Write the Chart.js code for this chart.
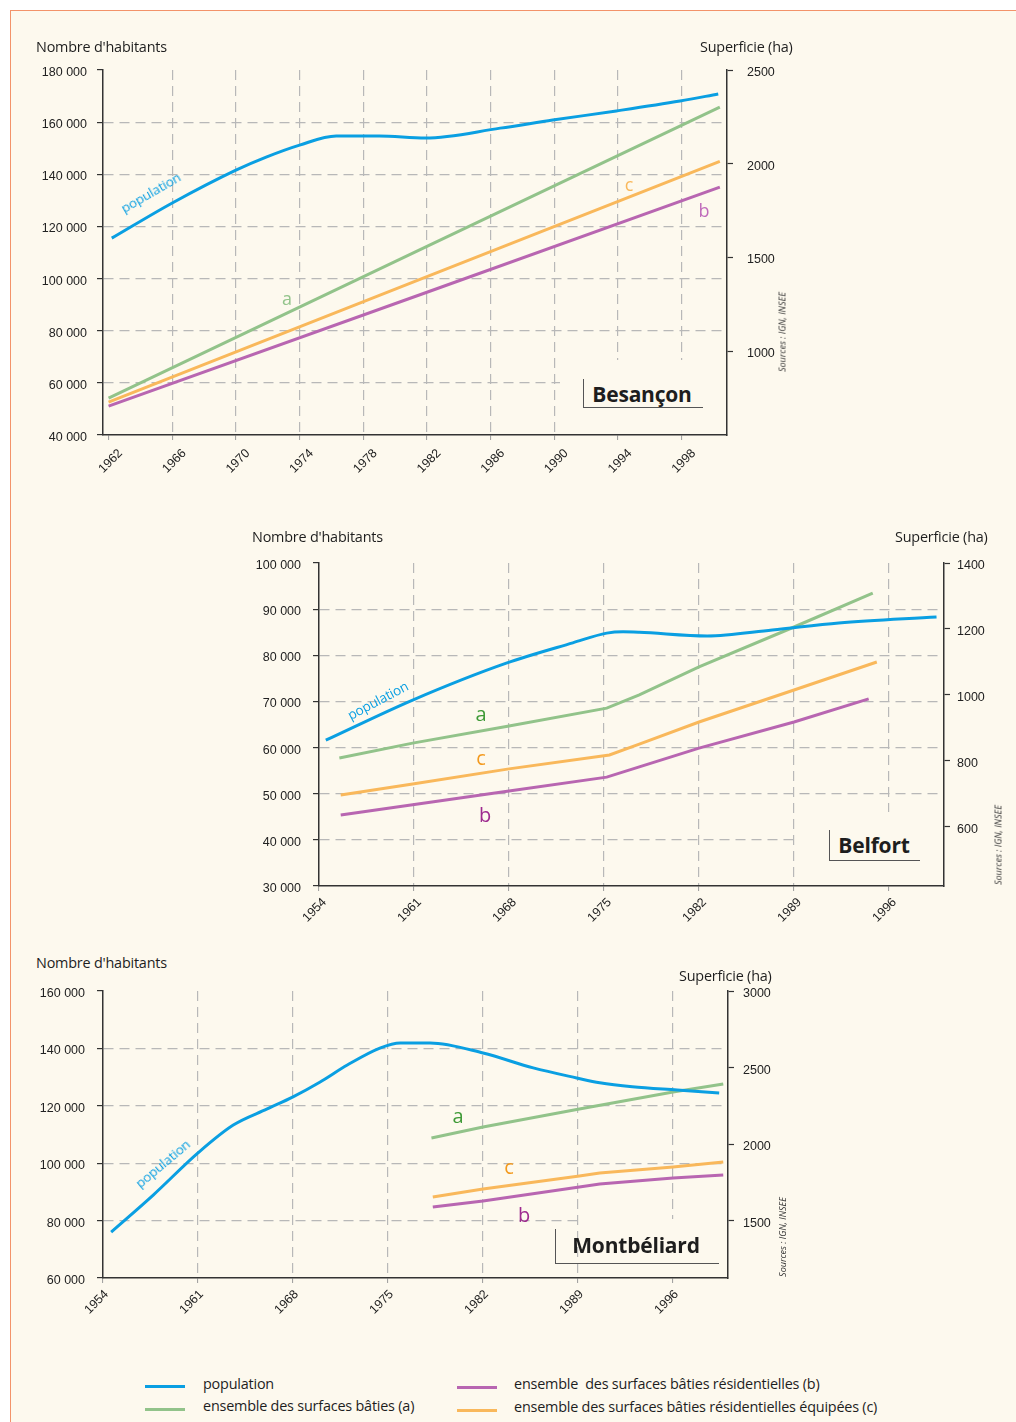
<!DOCTYPE html>
<html lang="fr">
<head>
<meta charset="utf-8">
<title>Population et surfaces bâties</title>
<script src="https://cdn.jsdelivr.net/npm/chart.js@4.4.0/dist/chart.umd.min.js"></script>
<style>
  html, body { margin: 0; padding: 0; background: #fff; }
  body { width: 1016px; height: 1422px; position: relative; overflow: hidden; font-family: "Open Sans", sans-serif; }
  #panel { position: absolute; left: 10px; top: 10px; right: 0; bottom: 0; background: #fdf9ee;
           border-top: 1.5px solid #f3936a; border-left: 1.5px solid #f3936a; }
  canvas { position: absolute; }
  .t { position: absolute; white-space: nowrap; line-height: 1; color: #1e1e1e; z-index: 3; }
  .hdr { font-size: 14.4px; letter-spacing: -0.2px; transform: translateY(-50%); }
  .c { transform: translate(-50%, -50%); }
  .pop { color: #0a9fe2; font-size: 13.5px; letter-spacing: -0.2px; }
  .let { font-size: 20px; }
  .city { font-size: 21px; font-weight: 700; letter-spacing: -0.2px; }
  .src { font-size: 9px; font-style: italic; color: #333; }
  .cover { position: absolute; background: #fdf9ee; z-index: 2; }
  .brk { position: absolute; border-left: 1.5px solid #555; border-bottom: 1.5px solid #555; z-index: 3; }
  .key { position: absolute; height: 3px; width: 40px; }
  .leg { font-size: 14.4px; letter-spacing: -0.2px; transform: translateY(-50%); }
</style>
</head>
<body>
<div id="panel"></div>

<canvas id="besancon" width="800" height="445" style="left:20px;top:55px"></canvas>
<canvas id="belfort" width="786" height="400" style="left:230px;top:545px"></canvas>
<canvas id="montbeliard" width="800" height="365" style="left:20px;top:975px"></canvas>

<!-- Besançon -->
<div class="t hdr" style="left:36px;top:47px">Nombre d'habitants</div>
<div class="t hdr" style="left:700px;top:47px">Superficie (ha)</div>
<div class="t pop c" style="left:151px;top:193px;transform:translate(-50%,-50%) rotate(-30deg)">population</div>
<div class="t let c" style="left:287px;top:298px;color:#93c48b;font-size:18px">a</div>
<div class="t let c" style="left:629px;top:184px;color:#f9b85b;font-size:18px">c</div>
<div class="t let c" style="left:704px;top:210px;color:#c06cbb;font-size:18px">b</div>
<div class="cover" style="left:560px;top:360px;width:166px;height:74px"></div>
<div class="brk" style="left:583px;top:379px;width:119px;height:28px"></div>
<div class="t city c" style="left:642px;top:394px">Besançon</div>
<div class="t src c" style="left:782px;top:332px;transform:translate(-50%,-50%) rotate(-90deg)">Sources : IGN, INSEE</div>

<!-- Belfort -->
<div class="t hdr" style="left:252px;top:537px">Nombre d'habitants</div>
<div class="t hdr" style="left:895px;top:537px">Superficie (ha)</div>
<div class="t pop c" style="left:378px;top:701px;transform:translate(-50%,-50%) rotate(-28deg)">population</div>
<div class="t let c" style="left:481px;top:714px;color:#3f9a37">a</div>
<div class="t let c" style="left:481px;top:758px;color:#f39a1e">c</div>
<div class="t let c" style="left:485px;top:815px;color:#9e2a8f">b</div>
<div class="cover" style="left:798px;top:812px;width:145px;height:73px"></div>
<div class="brk" style="left:829px;top:830px;width:90px;height:30px"></div>
<div class="t city c" style="left:874px;top:845px">Belfort</div>
<div class="t src c" style="left:998px;top:845px;transform:translate(-50%,-50%) rotate(-90deg)">Sources : IGN, INSEE</div>

<!-- Montbéliard -->
<div class="t hdr" style="left:36px;top:963px">Nombre d'habitants</div>
<div class="t hdr" style="left:679px;top:976px">Superficie (ha)</div>
<div class="t pop c" style="left:163px;top:1164px;transform:translate(-50%,-50%) rotate(-40deg)">population</div>
<div class="t let c" style="left:458px;top:1116px;color:#3f9a37">a</div>
<div class="t let c" style="left:509px;top:1167px;color:#f39a1e">c</div>
<div class="t let c" style="left:524px;top:1215px;color:#9e2a8f">b</div>
<div class="cover" style="left:583px;top:1219px;width:144px;height:58px"></div>
<div class="brk" style="left:555px;top:1229px;width:163px;height:34px"></div>
<div class="t city c" style="left:636px;top:1245px">Montbéliard</div>
<div class="t src c" style="left:782px;top:1237px;transform:translate(-50%,-50%) rotate(-90deg)">Sources : IGN, INSEE</div>

<!-- légende -->
<div class="key" style="left:145px;top:1385px;background:#0a9fe2"></div>
<div class="t leg" style="left:203px;top:1384px">population</div>
<div class="key" style="left:145px;top:1408px;background:#92c38a"></div>
<div class="t leg" style="left:203px;top:1406px">ensemble des surfaces bâties (a)</div>
<div class="key" style="left:457px;top:1386px;background:#b866b1"></div>
<div class="t leg" style="left:514px;top:1384px">ensemble&nbsp; des surfaces bâties résidentielles (b)</div>
<div class="key" style="left:457px;top:1409px;background:#f9b85b"></div>
<div class="t leg" style="left:514px;top:1407px">ensemble des surfaces bâties résidentielles équipées (c)</div>

<script>
"use strict";
// --- Besançon ---
const besXTicks = [1962, 1966, 1970, 1974, 1978, 1982, 1986, 1990, 1994, 1998];
const besLeftTicks = [40000, 60000, 80000, 100000, 120000, 140000, 160000, 180000];
const besRightTicks = [1000, 1500, 2000, 2500];
const besPopYears = [1962.2, 1966.0, 1970.0, 1971.9, 1974.0, 1976.3, 1979.0, 1981.9, 1986.6, 1989.9, 1993.9, 1997.9, 2000.3];
const besPop = [115500, 129000, 141600, 146600, 151200, 154700, 154700, 153900, 157700, 160800, 164300, 168100, 170800];
const besSurfYears = [1962.0, 1982.0, 2000.4];
const besSurfA = [749, 1559, 2302];
const besSurfB = [706, 1314, 1875];
const besSurfC = [728, 1397, 2012];

// --- Belfort ---
const belXTicks = [1954, 1961, 1968, 1975, 1982, 1989, 1996];
const belLeftTicks = [30000, 40000, 50000, 60000, 70000, 80000, 90000, 100000];
const belRightTicks = [600, 800, 1000, 1200, 1400];
const belPopYears = [1954.5, 1960.9, 1967.8, 1972.7, 1975.2, 1976.4, 1977.6, 1982.6, 1987.4, 1992.3, 1999.5];
const belPop = [61600, 70300, 78300, 82700, 84800, 85100, 85000, 84200, 85500, 87000, 88300];
const belYearsA = [1955.5, 1960.9, 1968.0, 1975.2, 1977.6, 1982.0, 1989.0, 1994.8];
const belSurfA = [809, 854, 906, 960, 1000, 1085, 1206, 1309];
const belYearsB = [1955.6, 1960.9, 1968.0, 1975.2, 1977.6, 1982.0, 1989.0, 1994.5];
const belSurfB = [636, 667, 709, 751, 782, 839, 918, 988];
const belYearsC = [1955.6, 1960.9, 1968.0, 1975.4, 1977.6, 1982.0, 1989.0, 1995.1];
const belSurfC = [697, 730, 776, 818, 851, 918, 1015, 1100];

// --- Montbéliard ---
const monXTicks = [1954, 1961, 1968, 1975, 1982, 1989, 1996];
const monLeftTicks = [60000, 80000, 100000, 120000, 140000, 160000];
const monRightTicks = [1500, 2000, 2500, 3000];
const monPopYears = [1954.6, 1957.7, 1961.0, 1963.6, 1966.1, 1968.0, 1970.0, 1972.0, 1974.4, 1975.9, 1978.1, 1982.0, 1985.7, 1988.9, 1990.6, 1993.0, 1996.3, 1999.4];
const monPop = [76000, 88900, 103600, 113300, 118900, 123100, 128300, 134200, 140100, 141900, 141900, 138400, 133200, 129700, 128000, 126600, 125500, 124500];
const monYearsA = [1978.2, 1982.0, 1989.1, 1996.0, 1999.7];
const monSurfA = [2041, 2113, 2230, 2341, 2393];
const monYearsBC = [1978.3, 1982.0, 1989.1, 1990.6, 1996.0, 1999.7];
const monSurfB = [1591, 1630, 1722, 1741, 1780, 1800];
const monSurfC = [1656, 1709, 1793, 1813, 1852, 1885];

const BLUE = "#0a9fe2", GREEN = "#92c38a", PURPLE = "#b866b1", ORANGE = "#f9b85b";
const AXIS = "#333", GRID = "#b8b8b8";
const TICK_FONT = { family: "Liberation Sans", size: 12.5 };

function thousands(v) {
    return String(v).replace(/\B(?=(\d{3})+(?!\d))/g, " ");
}

function series(xs, ys, color, axis, smooth) {
    return {
        data: xs.map((x, i) => ({ x: x, y: ys[i] })),
        borderColor: color,
        borderWidth: 3,
        pointRadius: 0,
        fill: false,
        tension: smooth ? 0.4 : 0,
        cubicInterpolationMode: smooth ? "monotone" : "default",
        yAxisID: axis,
    };
}

// fixed axis sizes so the plot area lands where the original has it
function fixWidth(w) {
    return (s) => { s.width = w; s.paddingTop = 0; s.paddingBottom = 0; };
}

function makeChart(id, o) {
    const ctx = document.getElementById(id).getContext("2d");
    return new Chart(ctx, {
        type: "line",
        data: { datasets: o.datasets },
        options: {
            responsive: false,
            animation: false,
            events: [],
            layout: { padding: { top: o.padTop, left: 0, right: 0, bottom: 0 } },
            plugins: { legend: { display: false }, tooltip: { enabled: false } },
            scales: {
                x: {
                    type: "linear",
                    position: "bottom",
                    min: o.xMin,
                    max: o.xMax,
                    bounds: "data",
                    afterBuildTicks: (s) => { s.ticks = o.xTicks.map((v) => ({ value: v })); },
                    afterFit: (s) => { s.height = o.bottomH; },
                    ticks: {
                        autoSkip: false,
                        minRotation: 45,
                        maxRotation: 45,
                        labelOffset: o.labelOffset,
                        padding: o.xPad,
                        color: "#222",
                        font: TICK_FONT,
                        callback: (v) => String(v),
                    },
                    grid: {
                        color: (c) => (c.index === 0 ? "rgba(0,0,0,0)" : GRID),
                        lineWidth: 1.2,
                        tickColor: "#9a9a9a",
                        tickWidth: 1,
                        tickLength: 5,
                    },
                    border: { color: AXIS, width: 1.5, dash: [10, 6] },
                },
                yL: {
                    type: "linear",
                    position: "left",
                    min: o.leftTicks[0],
                    max: o.leftTicks[o.leftTicks.length - 1],
                    bounds: "data",
                    afterBuildTicks: (s) => { s.ticks = o.leftTicks.map((v) => ({ value: v })); },
                    afterFit: fixWidth(o.leftW),
                    ticks: { padding: o.leftPad, labelOffset: 2.5, color: "#222", font: TICK_FONT, callback: (v) => thousands(v) },
                    grid: {
                        color: (c) => (c.index === 0 || c.index === o.leftTicks.length - 1 ? "rgba(0,0,0,0)" : GRID),
                        lineWidth: 1.2,
                        tickColor: AXIS,
                        tickWidth: 1.2,
                        tickLength: 6,
                    },
                    border: { color: AXIS, width: 1.5, dash: [10, 6] },
                },
                yR: {
                    type: "linear",
                    position: "right",
                    min: o.rightMin,
                    max: o.rightTicks[o.rightTicks.length - 1],
                    bounds: "data",
                    afterBuildTicks: (s) => { s.ticks = o.rightTicks.map((v) => ({ value: v })); },
                    afterFit: fixWidth(o.rightW),
                    ticks: { padding: o.rightPad, labelOffset: 2.5, color: "#222", font: TICK_FONT, callback: (v) => String(v) },
                    grid: { drawOnChartArea: false, tickColor: AXIS, tickWidth: 1.2, tickLength: 6 },
                    border: { color: AXIS, width: 1.5 },
                },
            },
        },
    });
}

makeChart("besancon", {
    datasets: [
        series(besPopYears, besPop, BLUE, "yL", true),
        series(besSurfYears, besSurfA, GREEN, "yR", false),
        series(besSurfYears, besSurfC, ORANGE, "yR", false),
        series(besSurfYears, besSurfB, PURPLE, "yR", false),
    ],
    xMin: 1961.65, xMax: 2000.85, xTicks: besXTicks,
    leftTicks: besLeftTicks, rightTicks: besRightTicks, rightMin: 552,
    leftW: 83, rightW: 93, padTop: 15, bottomH: 65,
    labelOffset: 12, xPad: 6, leftPad: 10, rightPad: 14,
});

makeChart("belfort", {
    datasets: [
        series(belPopYears, belPop, BLUE, "yL", true),
        series(belYearsA, belSurfA, GREEN, "yR", false),
        series(belYearsC, belSurfC, ORANGE, "yR", false),
        series(belYearsB, belSurfB, PURPLE, "yR", false),
    ],
    xMin: 1954, xMax: 2000.05, xTicks: belXTicks,
    leftTicks: belLeftTicks, rightTicks: belRightTicks, rightMin: 421,
    leftW: 89, rightW: 72, padTop: 18, bottomH: 59,
    labelOffset: 5.5, xPad: 4, leftPad: 12, rightPad: 7,
});

makeChart("montbeliard", {
    datasets: [
        series(monPopYears, monPop, BLUE, "yL", true),
        series(monYearsA, monSurfA, GREEN, "yR", false),
        series(monYearsBC, monSurfC, ORANGE, "yR", false),
        series(monYearsBC, monSurfB, PURPLE, "yR", false),
    ],
    xMin: 1954, xMax: 2000.05, xTicks: monXTicks,
    leftTicks: monLeftTicks, rightTicks: monRightTicks, rightMin: 1128,
    leftW: 83, rightW: 92, padTop: 16, bottomH: 62,
    labelOffset: 3.5, xPad: 4, leftPad: 12, rightPad: 9,
});
</script>
</body>
</html>
